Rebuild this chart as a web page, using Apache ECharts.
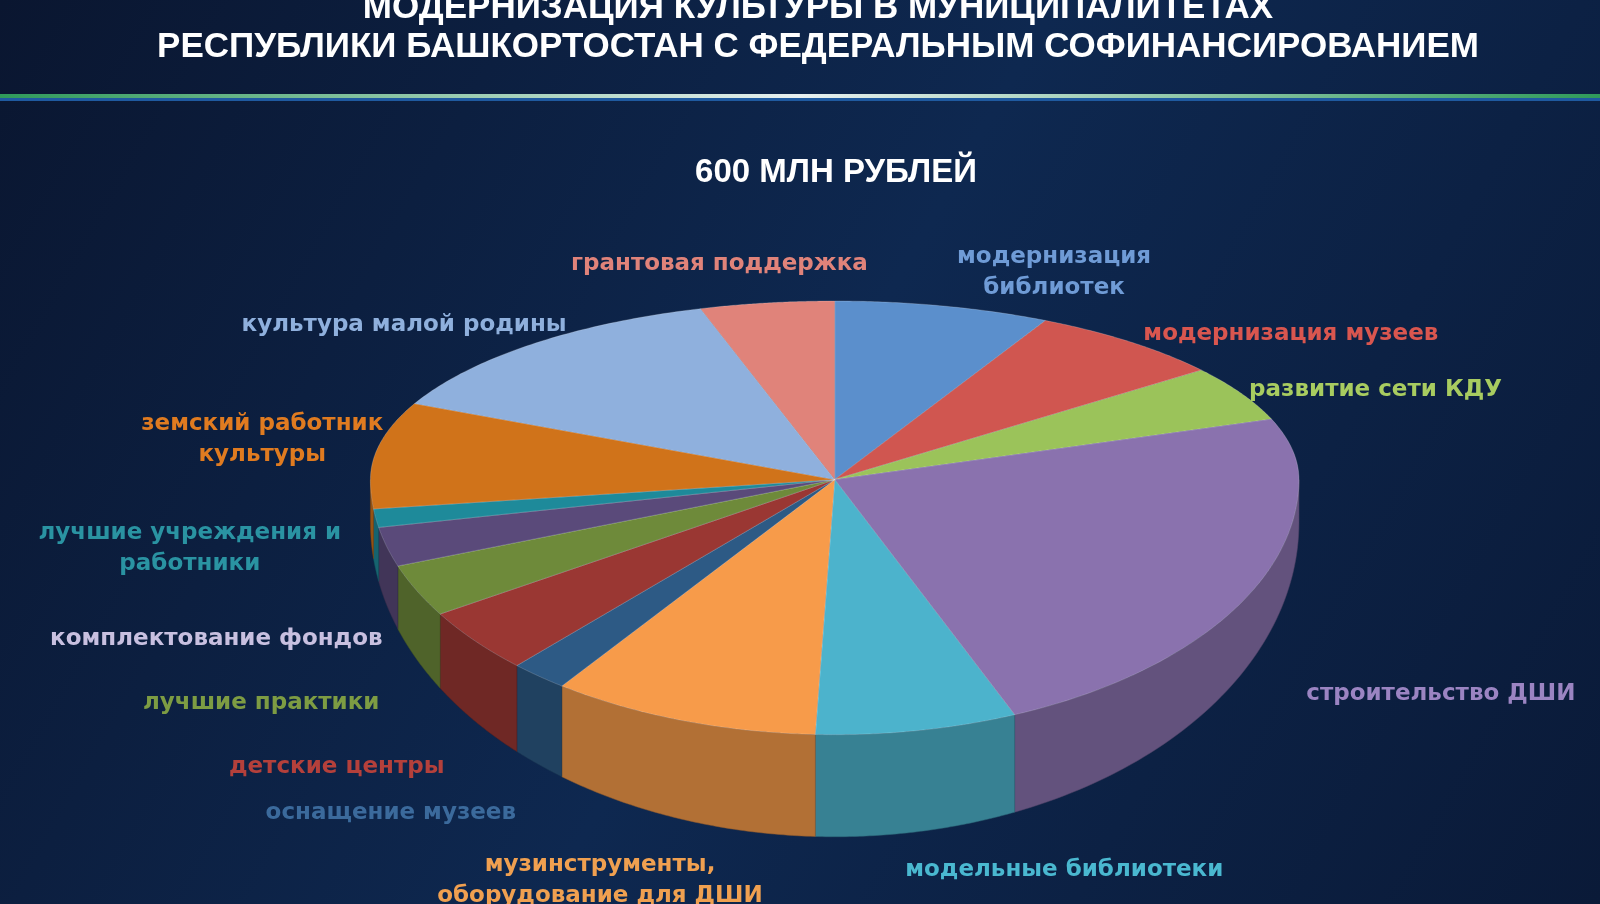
<!DOCTYPE html>
<html>
<head>
<meta charset="utf-8">
<script src="https://cdn.jsdelivr.net/npm/echarts@6/dist/echarts.min.js"></script>
<style>
  html, body { margin: 0; padding: 0; background: #0b1a33; }
  #main { width: 1600px; height: 904px; }
</style>
</head>
<body>
<div id="main"></div>
<script>
// категории и суммы (млн руб.), по часовой стрелке от 12 часов
var categories = [
    'модернизация\nбиблиотек', 'модернизация музеев', 'развитие сети КДУ',
    'строительство ДШИ', 'модельные библиотеки', 'музинструменты,\nоборудование для ДШИ',
    'оснащение музеев', 'детские центры', 'лучшие практики', 'комплектование фондов',
    'лучшие учреждения и\nработники', 'земский работник\nкультуры', 'культура малой родины',
    'грантовая поддержка'
];
var values = [45, 42, 30, 145, 42, 56, 12, 25, 20, 15, 7, 53, 80, 28];
var colors = ['#5b8fcc', '#d05650', '#9bc35a', '#8a72ae', '#4cb3cc', '#f79b4a', '#2d5a85',
    '#9a3733', '#6e8a3a', '#5a4a7a', '#1e8a9a', '#d0731a', '#8fb0dd', '#e0837a'];
var labelColors = ['#6f9bd6', '#d9564f', '#a8cc60', '#9b84c2', '#4ab8d0', '#f0a050', '#3b6a9c',
    '#b4403b', '#7d9c43', '#c8c0e0', '#2a93a2', '#e07b20', '#8fb0dd', '#e0837a'];
// положение подписей [x, y] (в масштабе 1568)
var labelPos = [[1033, 267], [1265, 327], [1348, 382], [1412, 680], [1043, 853], [588, 863],
    [383, 797], [330, 752], [256, 689], [212, 626], [186, 538], [257, 431], [396, 319], [705, 259]];

var S = 1600 / 1568;
var cx = 818 * S, cy = 470 * S, rx = 455 * S;
var total = values.reduce(function (a, b) { return a + b; }, 0);
var starts = [], acc = 0;
values.forEach(function (v) { starts.push(acc / total * 360); acc += v; });

function pt(a, drop) {
    var r = a * Math.PI / 180, c = Math.cos(r);
    var ry = (c > 0 ? 175 : 250) * S;
    return [cx + rx * Math.sin(r), cy - ry * c + (drop ? depth(a) : 0)];
}
function depth(a) {
    return (42 + 58 * Math.max(0, -Math.cos(a * Math.PI / 180))) * S;
}
function shade(col, k) {
    var n = parseInt(col.slice(1), 16);
    var r = Math.round(((n >> 16) & 255) * k), g = Math.round(((n >> 8) & 255) * k), b = Math.round((n & 255) * k);
    return 'rgb(' + r + ',' + g + ',' + b + ')';
}

var chart = echarts.init(document.getElementById('main'));

var graphics = [
    { type: 'rect', shape: { x: 0, y: 94, width: 1600, height: 4 },
      style: { fill: new echarts.graphic.LinearGradient(0, 0, 1, 0, [
          { offset: 0, color: '#2f9a5a' }, { offset: 0.5, color: '#e8f0f0' }, { offset: 1, color: '#2f9a5a' }]) } },
    { type: 'rect', shape: { x: 0, y: 98, width: 1600, height: 3 }, style: { fill: '#1f5aa0' } },
    { type: 'text', x: 818, y: -9, style: { text: 'МОДЕРНИЗАЦИЯ КУЛЬТУРЫ В МУНИЦИПАЛИТЕТАХ', fill: '#ffffff',
      font: 'bold 35px "Liberation Sans", Arial', textAlign: 'center', textVerticalAlign: 'top' } },
    { type: 'text', x: 818, y: 30, style: { text: 'РЕСПУБЛИКИ БАШКОРТОСТАН С ФЕДЕРАЛЬНЫМ СОФИНАНСИРОВАНИЕМ', fill: '#ffffff',
      font: 'bold 35px "Liberation Sans", Arial', textAlign: 'center', textVerticalAlign: 'top' } },
    { type: 'text', x: 836, y: 156, style: { text: '600 МЛН РУБЛЕЙ', fill: '#ffffff',
      font: 'bold 33px "Liberation Sans", Arial', textAlign: 'center', textVerticalAlign: 'top' } }
];
categories.forEach(function (c, i) {
    graphics.push({ type: 'text', x: labelPos[i][0] * S, y: labelPos[i][1] * S, z: 10,
        style: { text: c, fill: labelColors[i], font: 'bold 23px "DejaVu Sans", sans-serif',
                 textAlign: 'center', textVerticalAlign: 'middle', lineHeight: 31 } });
});

var option = {
    backgroundColor: new echarts.graphic.LinearGradient(0, 0, 1, 1, [
        { offset: 0, color: '#0a1630' }, { offset: 0.5, color: '#0e2850' }, { offset: 1, color: '#0a1a38' }]),
    animation: false,
    graphic: graphics,
    series: [{
        type: 'custom',
        coordinateSystem: 'none',
        data: values.map(function (v, i) { return [i, v]; }),
        renderItem: function (params, api) {
            var i = api.value(0);
            var a0 = starts[i], a1 = a0 + api.value(1) / total * 360;
            var top = [[cx, cy]], k, n = 60;
            for (k = 0; k <= n; k++) top.push(pt(a0 + (a1 - a0) * k / n));
            var children = [];
            // боковая стенка для передней половины
            var s0 = Math.max(a0, 90), s1 = Math.min(a1, 270);
            if (s1 > s0) {
                var upper = [], lower = [];
                for (k = 0; k <= n; k++) {
                    var a = s0 + (s1 - s0) * k / n;
                    upper.push(pt(a));
                    lower.unshift(pt(a, true));
                }
                children.push({ type: 'polygon', z2: 1, shape: { points: upper.concat(lower) },
                    style: { fill: shade(colors[i], 0.72), stroke: shade(colors[i], 0.6), lineWidth: 0.5 } });
            }
            children.push({ type: 'polygon', z2: 5, shape: { points: top },
                style: { fill: colors[i], stroke: 'rgba(255,255,255,0.25)', lineWidth: 0.8 } });
            return { type: 'group', children: children };
        }
    }]
};
chart.setOption(option);
</script>
</body>
</html>
